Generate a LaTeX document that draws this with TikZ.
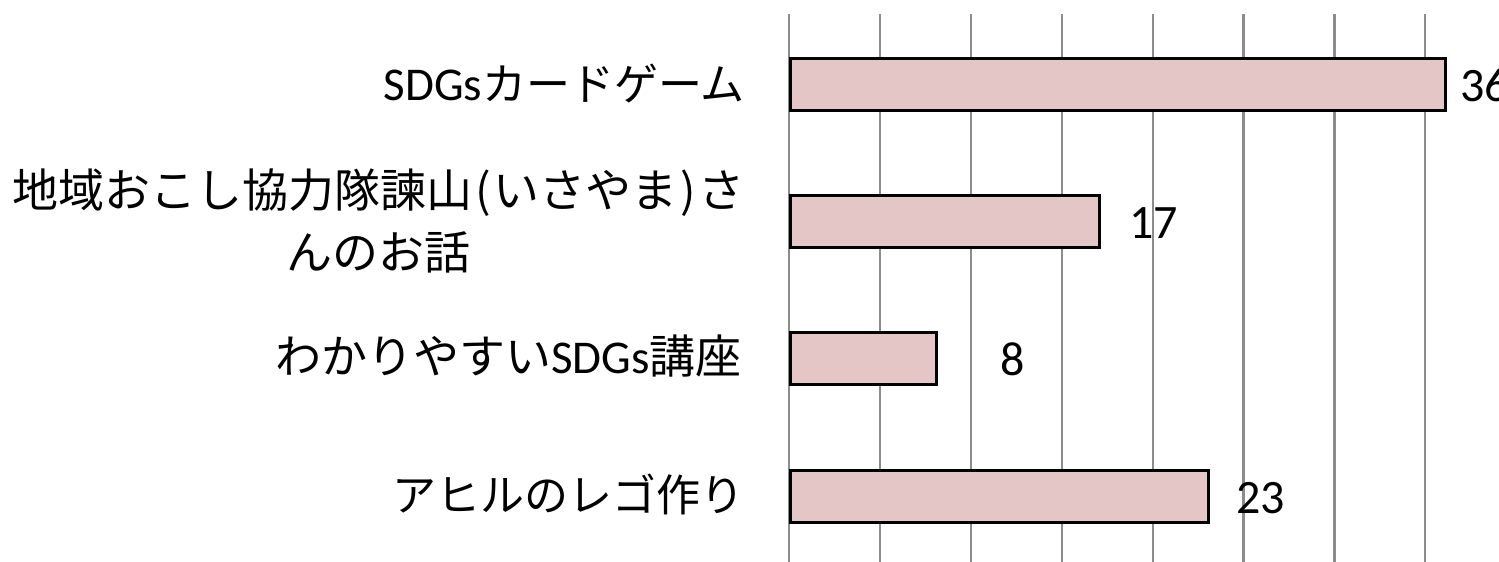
\documentclass[tikz,border=0pt]{standalone}
\usepackage{fontspec}
\setmainfont{Carlito}
\newfontfamily\cjk{Noto Sans CJK JP}
\newfontfamily\lat{Carlito}
\definecolor{barfill}{HTML}{E5C6C7}
\definecolor{gridgray}{HTML}{8C8C8C}
\newcommand{\pbox}[1]{\makebox[21pt]{#1}}
\tikzset{
  gridline/.style={draw=gridgray, line width=2.2pt},
  barbox/.style={draw=black, fill=barfill, line width=3pt, rectangle, inner sep=0pt, minimum height=52pt, anchor=west},
  valtxt/.style={inner sep=0pt, anchor=base west, font=\lat\fontsize{48}{58}\selectfont},
  cattxt/.style={inner sep=0pt, anchor=base east, font=\fontsize{44}{62}\selectfont}
}
\begin{document}
\begin{tikzpicture}[x=1pt,y=-1pt]
\useasboundingbox (0,0) rectangle (1499,562);
\fill[white] (0,0) rectangle (1499,562);
% grid lines
\foreach \i in {0,...,7}{
  \coordinate (gt\i) at ({789+90.9*\i},14);
  \coordinate (gb\i) at ({789+90.9*\i},562);
  \draw[gridline] (gt\i) -- (gb\i);
}
% bars (value * 18.18 px)
\node[barbox, minimum width=654.5pt] (b1) at (789,84) {};
\node[barbox, minimum width=309pt] (b2) at (789,221) {};
\node[barbox, minimum width=145.5pt] (b3) at (789,358) {};
\node[barbox, minimum width=418pt] (b4) at (789,496) {};
% values
\node[valtxt] (v1) at (1460,101) {36};
\node[valtxt] (v2) at (1129,238) {17};
\node[valtxt] (v3) at (1000,375) {8};
\node[valtxt] (v4) at (1236,513) {23};
% category labels
\node[cattxt] (c1) at (745,100) {{\lat\fontsize{47}{62}\selectfont SDGs}{\cjk カードゲーム}};
\node[cattxt, anchor=east, align=center, font=\cjk\fontsize{46}{62}\selectfont] (c2) at (745,221) {地域おこし協力隊諫山\pbox{(}いさやま\pbox{)}さ\\んのお話};
\node[cattxt, font=\fontsize{46}{62}\selectfont] (c3) at (742,373) {{\cjk わかりやすい}{\lat\fontsize{47}{62}\selectfont SDGs}{\cjk 講座}};
\node[cattxt] (c4) at (745,511) {{\cjk アヒルのレゴ作り}};
\end{tikzpicture}
\end{document}
